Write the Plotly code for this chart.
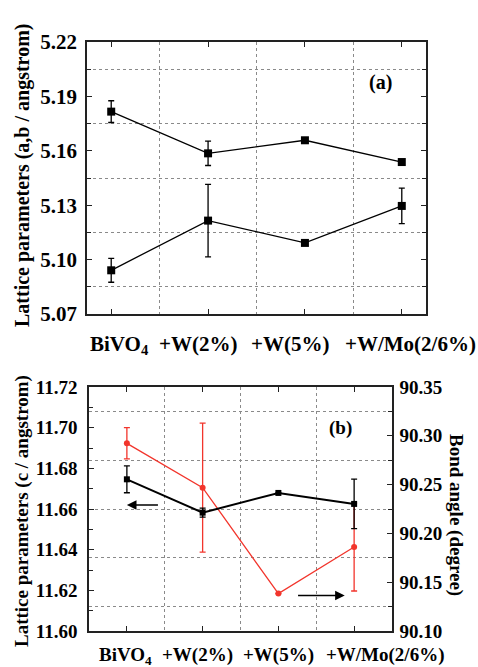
import plotly.graph_objects as go

categories = ["BiVO<sub>4</sub>", "+W(2%)", "+W(5%)", "+W/Mo(2/6%)"]
xpos = [0, 1, 2, 3]

# Panel (a): lattice parameters a, b (angstrom)
a_upper = [5.1816, 5.1586, 5.1658, 5.1538]
a_upper_err = [0.006, 0.0067, 0.0, 0.0]
a_lower = [5.0941, 5.1215, 5.1092, 5.1296]
a_lower_err = [0.0066, 0.020, 0.0, 0.0098]

# Panel (b): lattice parameter c (angstrom) and bond angle (degree)
c_param = [11.6746, 11.6582, 11.6679, 11.6625]
c_err = [0.0066, 0.0022, 0.0, 0.0122]
bond_angle = [90.2923, 90.2469, 90.1383, 90.186]
bond_err = [0.016, 0.066, 0.0, 0.045]

# label centres as drawn in the original (pixels across the 478 px page)
top_label_px = [119, 198, 290, 410]
bottom_label_px = [125, 197, 278, 385]

FONT = "Liberation Serif"
BLACK = "#000000"
RED = "#f2352c"
GRID = "#8a8a8a"
W, H = 478, 667

fig = go.Figure()

# top panel
for ys, es in [(a_upper, a_upper_err), (a_lower, a_lower_err)]:
    fig.add_trace(go.Scatter(
        x=xpos, y=ys, mode="lines+markers", xaxis="x", yaxis="y",
        line=dict(color=BLACK, width=1.3),
        marker=dict(symbol="square", size=8, color=BLACK),
        error_y=dict(type="data", array=es, visible=True, color=BLACK, thickness=1.3, width=3),
        showlegend=False))

# bottom panel: red (bond angle) on base axis, black (c) overlaying
fig.add_trace(go.Scatter(
    x=xpos, y=bond_angle, mode="lines+markers", xaxis="x2", yaxis="y2",
    line=dict(color=RED, width=1.3),
    marker=dict(symbol="circle", size=6, color=RED),
    error_y=dict(type="data", array=bond_err, visible=True, color=RED, thickness=1.3, width=3),
    showlegend=False))
fig.add_trace(go.Scatter(
    x=xpos, y=c_param, mode="lines+markers", xaxis="x2", yaxis="y3",
    line=dict(color=BLACK, width=2),
    marker=dict(symbol="square", size=6, color=BLACK),
    error_y=dict(type="data", array=c_err, visible=True, color=BLACK, thickness=1.3, width=3),
    showlegend=False))

axis_common = dict(showline=True, linecolor="#222222", linewidth=1.5, ticks="inside",
                   tickcolor="#222222", ticklen=5, tickwidth=1.3, zeroline=False,
                   showgrid=False, automargin=False, tickangle=0)

fig.update_layout(
    width=W, height=H,
    margin=dict(l=0, r=0, t=0, b=0, autoexpand=False),
    paper_bgcolor="white", plot_bgcolor="white",
    font=dict(family=FONT, color=BLACK),
    xaxis=dict(domain=[87/W, 426/W], anchor="y", range=[-0.25, 3.25],
               tickmode="array", tickvals=xpos, ticktext=categories, mirror="ticks",
               showticklabels=False,
               minor=dict(tickmode="array", tickvals=[0.5, 1.5, 2.5], showgrid=True,
                          griddash="dot", gridcolor=GRID, gridwidth=1, ticks=""),
               **axis_common),
    yaxis=dict(domain=[1-314/H, 1-42/H], anchor="x", range=[5.07, 5.22],
               tick0=5.07, dtick=0.03, tickformat=".2f", mirror="ticks",
               tickfont=dict(size=21, family=FONT, weight="bold"), ticklabelstandoff=4,
               minor=dict(dtick=0.015, tick0=5.07, showgrid=True, griddash="dot",
                          gridcolor=GRID, gridwidth=1, ticks="inside", ticklen=4,
                          tickcolor="#222222"),
               **axis_common),
    xaxis2=dict(domain=[89/W, 392/W], anchor="y2", range=[-0.5, 3.5],
                tickmode="array", tickvals=xpos, ticktext=categories, mirror="ticks",
                showticklabels=False,
                minor=dict(tickmode="array", tickvals=[0.5, 1.5, 2.5], showgrid=True,
                           griddash="dot", gridcolor=GRID, gridwidth=1, ticks=""),
                **axis_common),
    yaxis2=dict(domain=[1-631/H, 1-387/H], anchor="x2", side="right",
                range=[90.10, 90.35], tick0=90.10, dtick=0.05, tickformat=".2f",
                tickfont=dict(size=19, family=FONT, weight="bold"), ticklabelstandoff=2,
                minor=dict(dtick=0.025, tick0=90.10, showgrid=True, griddash="dot",
                           gridcolor=GRID, gridwidth=1, ticks="inside", ticklen=4,
                           tickcolor="#222222"),
                **axis_common),
    yaxis3=dict(anchor="x2", overlaying="y2", side="left",
                range=[11.60, 11.72], tick0=11.60, dtick=0.02, tickformat=".2f",
                tickfont=dict(size=19, family=FONT, weight="bold"), ticklabelstandoff=6,
                minor=dict(dtick=0.01, tick0=11.60, ticks="inside", ticklen=4,
                           tickcolor="#222222"),
                **axis_common),
)

# category labels
for lab, px in zip(categories, top_label_px):
    fig.add_annotation(xref="paper", yref="paper", x=px/W, y=1-330/H, showarrow=False,
                       xanchor="center", yanchor="top", text=f"<b>{lab}</b>",
                       font=dict(size=21, family=FONT))
for lab, px in zip(categories, bottom_label_px):
    fig.add_annotation(xref="paper", yref="paper", x=px/W, y=1-642/H, showarrow=False,
                       xanchor="center", yanchor="top", text=f"<b>{lab}</b>",
                       font=dict(size=19, family=FONT))

ann = [
    dict(text="<b>Lattice parameters (a,b / angstrom)</b>", x=22/W, y=1-176/H,
         textangle=-90, font=dict(size=20, family=FONT)),
    dict(text="<b>Lattice parameters (c / angstrom)</b>", x=22/W, y=1-511/H,
         textangle=-90, font=dict(size=19, family=FONT)),
    dict(text="<b>Bond angle (degree)</b>", x=456/W, y=1-515/H,
         textangle=90, font=dict(size=19, family=FONT)),
    dict(text="<b>(a)</b>", x=380/W, y=1-83/H, font=dict(size=20, family=FONT)),
    dict(text="<b>(b)</b>", x=340/W, y=1-428/H, font=dict(size=19, family=FONT)),
]
for a in ann:
    fig.add_annotation(xref="paper", yref="paper", showarrow=False,
                       xanchor="center", yanchor="middle", **a)

# arrows
fig.add_annotation(xref="x2", yref="y3", axref="x2", ayref="y3",
                   x=0.0, y=11.662, ax=0.43, ay=11.662, text="", showarrow=True,
                   arrowhead=2, arrowsize=1.2, arrowwidth=1.6, arrowcolor=BLACK)
fig.add_annotation(xref="x2", yref="y2", axref="x2", ayref="y2",
                   x=2.876, y=90.1363, ax=2.24, ay=90.1363, text="", showarrow=True,
                   arrowhead=2, arrowsize=1.2, arrowwidth=1.6, arrowcolor=BLACK)

fig.write_html("out.html")
